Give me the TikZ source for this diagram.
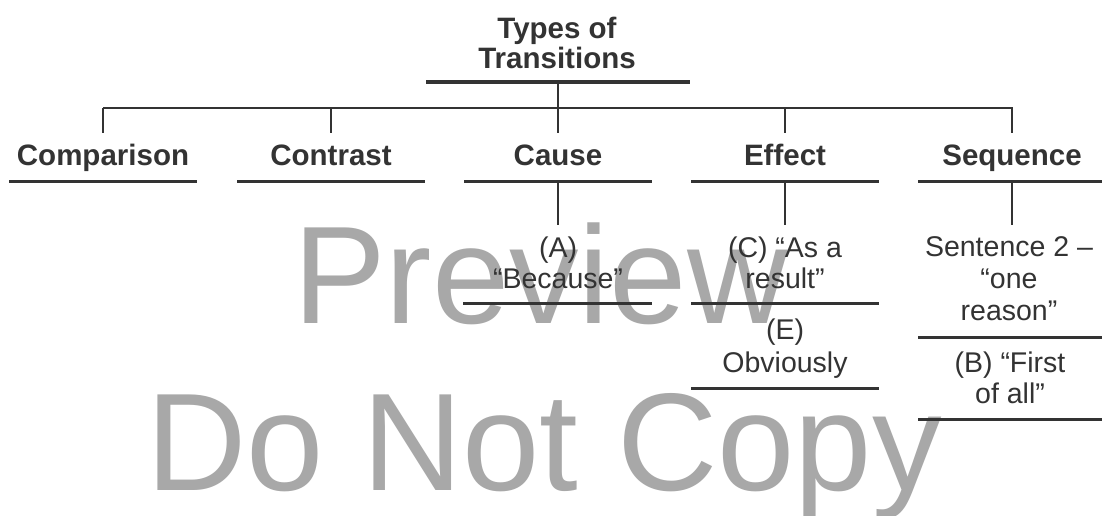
\documentclass[tikz,border=0pt]{standalone}
\usepackage{fontspec}
\setmainfont{Liberation Sans}
\definecolor{ink}{HTML}{333333}
\definecolor{mark}{HTML}{A8A8A8}
\begin{document}
\begin{tikzpicture}[x=1pt,y=-1pt,
  heading/.style={font=\bfseries\fontsize{29.5}{30}\selectfont, text=ink, inner sep=0pt, anchor=base, align=center},
  entry/.style={font=\fontsize{28.5}{31}\selectfont, text=ink, inner sep=0pt, anchor=base, align=center},
  wmark/.style={font=\fontsize{139}{139}\selectfont, text=mark, inner sep=0pt, anchor=base west},
  link/.style={draw=ink, line width=2pt},
  rule/.style={draw=ink, line width=3pt},
  toprule/.style={draw=ink, line width=4.5pt}]
\useasboundingbox (0,0) rectangle (1102,515);
\fill[white] (0,0) rectangle (1102,515);

% watermark
\node[wmark] (wm1) at (293,323) {Preview};
\node[wmark] (wm2) at (146,490) {Do Not Copy};

% title (base anchor sits on the last line)
\node[heading] (title) at (557,68) {Types of\\Transitions};
\coordinate (tl) at (426,82);
\coordinate (tr) at (690,82);
\coordinate (tc) at (558,82);
\draw[toprule] (tl) -- (tr);

% branch bar
\coordinate (bl) at (103,108);
\coordinate (br) at (1013,108);
\coordinate (bc) at (558,108);
\draw[link] (tc) -- (bc);
\draw[link] (bl) -- (br);

% categories
\foreach \n/\x/\t in {cmp/103/Comparison, con/331/Contrast, cau/558/Cause, eff/785/Effect, seq/1012/Sequence}{
  \coordinate (\n-top) at (\x,108);
  \coordinate (\n-drop) at (\x,133);
  \draw[link] (\n-top) -- (\n-drop);
  \node[heading] (\n) at (\x,165) {\t};
  \coordinate (\n-l) at (\x-94,181);
  \coordinate (\n-r) at (\x+94,181);
  \coordinate (\n-m) at (\x,181);
  \draw[rule] (\n-l) -- (\n-r);
}

% drops to the examples
\foreach \n/\x in {cau/558, eff/785, seq/1012}{
  \coordinate (\n-low) at (\x,225);
  \draw[link] (\n-m) -- (\n-low);
}

% Cause
\node[entry] (ca) at (558,288) {(A)\\“Because”};
\coordinate (ca-l) at (463,303);
\coordinate (ca-r) at (652,303);
\draw[rule] (ca-l) -- (ca-r);

% Effect
\node[entry] (ec) at (785,288) {(C) “As a\\result”};
\coordinate (ec-l) at (691,303);
\coordinate (ec-r) at (879,303);
\draw[rule] (ec-l) -- (ec-r);
\node[entry, font=\fontsize{28.5}{33}\selectfont] (ee) at (785,372) {(E)\\Obviously};
\coordinate (ee-l) at (691,388);
\coordinate (ee-r) at (879,388);
\draw[rule] (ee-l) -- (ee-r);

% Sequence
\node[entry, font=\fontsize{28.5}{32}\selectfont] (s2) at (1009,320) {Sentence 2 –\\“one\\reason”};
\coordinate (s2-l) at (918,337);
\coordinate (s2-r) at (1102,337);
\draw[rule] (s2-l) -- (s2-r);
\node[entry] (sb) at (1010,403) {(B) “First\\of all”};
\coordinate (sb-l) at (918,419);
\coordinate (sb-r) at (1102,419);
\draw[rule] (sb-l) -- (sb-r);
\end{tikzpicture}
\end{document}
